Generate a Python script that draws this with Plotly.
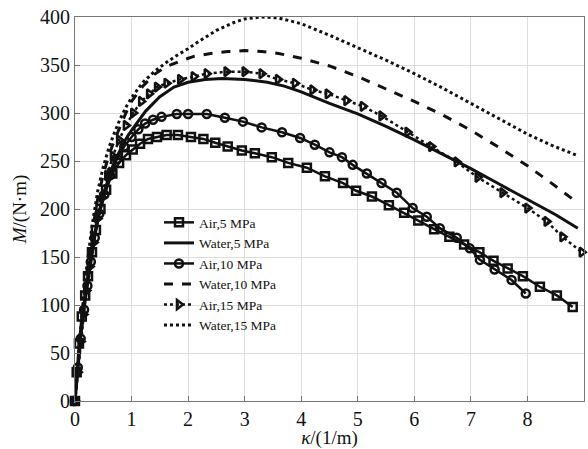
import plotly.graph_objects as go

# Air, 5 MPa
k_air5 = [0, 0.03, 0.07, 0.12, 0.18, 0.23, 0.3, 0.37, 0.45, 0.55, 0.66, 0.78, 0.9, 1.02, 1.15,
          1.29, 1.45, 1.62, 1.82, 2.05, 2.27, 2.48, 2.7, 2.95, 3.18, 3.48, 3.77, 4.1, 4.42, 4.74,
          4.97, 5.25, 5.55, 5.82, 6.07, 6.35, 6.62, 6.88, 7.15, 7.4, 7.65, 7.92, 8.22, 8.52, 8.8]
m_air5 = [0, 30, 60, 88, 110, 130, 155, 178, 200, 220, 237, 248, 256, 262, 268,
          273, 275, 277, 277, 275, 273, 269, 265, 261, 258, 254, 248, 243, 234, 227,
          219, 213, 204, 196, 188, 179, 171, 163, 155, 146, 138, 130, 119, 110, 98]

# Water, 5 MPa
k_wat5 = [0, 0.05, 0.1, 0.15, 0.2, 0.3, 0.4, 0.5, 0.6, 0.7, 0.8, 0.9, 1.0, 1.25, 1.5, 1.75,
          2.0, 2.3, 2.6, 3.0, 3.4, 3.7, 4.0, 4.5, 5.0, 5.5, 6.0, 6.5, 7.0, 7.5, 8.0, 8.5, 8.89]
m_wat5 = [0, 35, 65, 95, 120, 160, 190, 214, 234, 250, 262, 273, 282, 302, 317, 327,
          332, 335, 336, 335, 332, 328, 322, 310, 299, 286, 272, 257, 242, 226, 210, 194, 180]

# Air, 10 MPa
k_air10 = [0, 0.05, 0.1, 0.16, 0.22, 0.28, 0.35, 0.43, 0.52, 0.62, 0.74, 0.87, 1.0, 1.12, 1.24,
           1.38, 1.53, 1.8, 2.0, 2.33, 2.65, 2.97, 3.3, 3.66, 3.98, 4.24, 4.5, 4.72, 4.91, 5.16,
           5.42, 5.69, 5.97, 6.22, 6.45, 6.75, 6.98, 7.16, 7.42, 7.72, 7.97]
m_air10 = [0, 35, 65, 95, 120, 145, 170, 195, 215, 235, 252, 265, 275, 283, 289,
           293, 296, 299, 299, 299, 295, 291, 285, 280, 274, 267, 259, 254, 246, 237,
           227, 217, 201, 192, 180, 170, 159, 147, 137, 126, 112]

# Water, 10 MPa
k_wat10 = [0, 0.05, 0.1, 0.15, 0.2, 0.3, 0.4, 0.5, 0.6, 0.7, 0.8, 0.9, 1.0, 1.2, 1.4, 1.6,
           1.86, 2.1, 2.4, 2.7, 3.0, 3.3, 3.6, 4.0, 4.5, 5.0, 5.5, 6.0, 6.5, 7.0, 7.5, 8.0, 8.4, 8.83]
m_wat10 = [0, 38, 70, 102, 130, 175, 210, 236, 256, 272, 287, 300, 312, 328, 340, 348,
           354, 359, 362, 364, 365, 364, 362, 357, 349, 338, 325, 312, 298, 282, 264, 245, 228, 209]

# Air, 15 MPa
k_air15 = [0, 0.05, 0.1, 0.15, 0.2, 0.26, 0.33, 0.4, 0.48, 0.57, 0.67, 0.78, 0.9, 1.03, 1.17,
           1.31, 1.45, 1.62, 1.86, 2.1, 2.33, 2.68, 3.0, 3.3, 3.59, 3.89, 4.2, 4.47, 4.8, 5.09,
           5.42, 5.88, 6.3, 6.75, 7.12, 7.56, 8.0, 8.34, 8.62, 8.96]
m_air15 = [0, 30, 62, 90, 115, 140, 165, 190, 212, 235, 255, 272, 287, 300, 312,
           320, 327, 331, 335, 338, 341, 343, 343, 341, 335, 331, 324, 320, 313, 307,
           297, 280, 265, 249, 233, 217, 201, 187, 171, 155]

# Water, 15 MPa
k_wat15 = [0, 0.05, 0.1, 0.15, 0.2, 0.3, 0.4, 0.5, 0.6, 0.7, 0.8, 0.9, 1.0, 1.2, 1.4, 1.6,
           1.8, 2.0, 2.2, 2.5, 2.8, 3.0, 3.3, 3.6, 4.0, 4.5, 5.0, 5.5, 6.0, 6.5, 7.0, 7.5, 8.0, 8.4, 8.87]
m_wat15 = [0, 40, 74, 108, 136, 182, 218, 244, 264, 280, 294, 306, 316, 332, 343, 352,
           360, 367, 375, 386, 394, 398, 400, 399, 393, 381, 368, 355, 341, 326, 310, 294, 278, 267, 256]

x_ticks = [0, 1, 2, 3, 4, 5, 6, 7, 8, 9]
y_ticks = [0, 50, 100, 150, 200, 250, 300, 350, 400]

series = [
    ("Air,5 MPa", k_air5, m_air5, "solid", "square-open"),
    ("Water,5 MPa", k_wat5, m_wat5, "solid", None),
    ("Air,10 MPa", k_air10, m_air10, "solid", "circle-open"),
    ("Water,10 MPa", k_wat10, m_wat10, "dash", None),
    ("Air,15 MPa", k_air15, m_air15, "dot", "triangle-right-open"),
    ("Water,15 MPa", k_wat15, m_wat15, "dot", None),
]

fig = go.Figure()
for name, xs, ys, dash, sym in series:
    if sym:
        fig.add_trace(go.Scatter(
            x=xs, y=ys, name=name, mode="lines+markers",
            line=dict(color="#111111", width=2.5, dash=dash),
            marker=dict(symbol=sym, size=8, color="#111111", line=dict(width=2.5, color="#111111")),
            cliponaxis=False,
        ))
    else:
        fig.add_trace(go.Scatter(
            x=xs, y=ys, name=name, mode="lines",
            line=dict(color="#111111", width=3, dash=dash),
        ))

serif = "Liberation Serif"
fig.update_layout(
    width=588, height=449,
    margin=dict(l=75, r=4, t=17, b=48),
    paper_bgcolor="white", plot_bgcolor="white",
    font=dict(family=serif, color="#111111", size=20),
    showlegend=True,
    legend=dict(
        x=0.165, y=0.505, xanchor="left", yanchor="top",
        bgcolor="rgba(0,0,0,0)", font=dict(size=13.5, family=serif),
        tracegroupgap=0, itemwidth=30,
    ),
    xaxis=dict(
        range=[0, 9], tickvals=x_ticks, ticktext=[str(v) for v in x_ticks],
        tickfont=dict(family=serif, size=20),
        showgrid=True, gridcolor="#dddddd", gridwidth=1,
        showline=True, linecolor="#777777", linewidth=1, mirror=True,
        ticks="inside", ticklen=5, tickcolor="#777777",
        zeroline=False,
        title=dict(text="<i>κ</i>/(1/m)", standoff=0, font=dict(size=19, family=serif)),
    ),
    yaxis=dict(
        range=[0, 400], tickvals=y_ticks, ticktext=[str(v) for v in y_ticks],
        tickfont=dict(family=serif, size=20),
        showgrid=True, gridcolor="#dddddd", gridwidth=1,
        showline=True, linecolor="#777777", linewidth=1, mirror=True,
        ticks="inside", ticklen=5, tickcolor="#777777",
        zeroline=False,
        title=dict(text="<i>M</i>/(N·m)", standoff=8, font=dict(size=19, family=serif)),
    ),
)

fig.write_html("out.html")
